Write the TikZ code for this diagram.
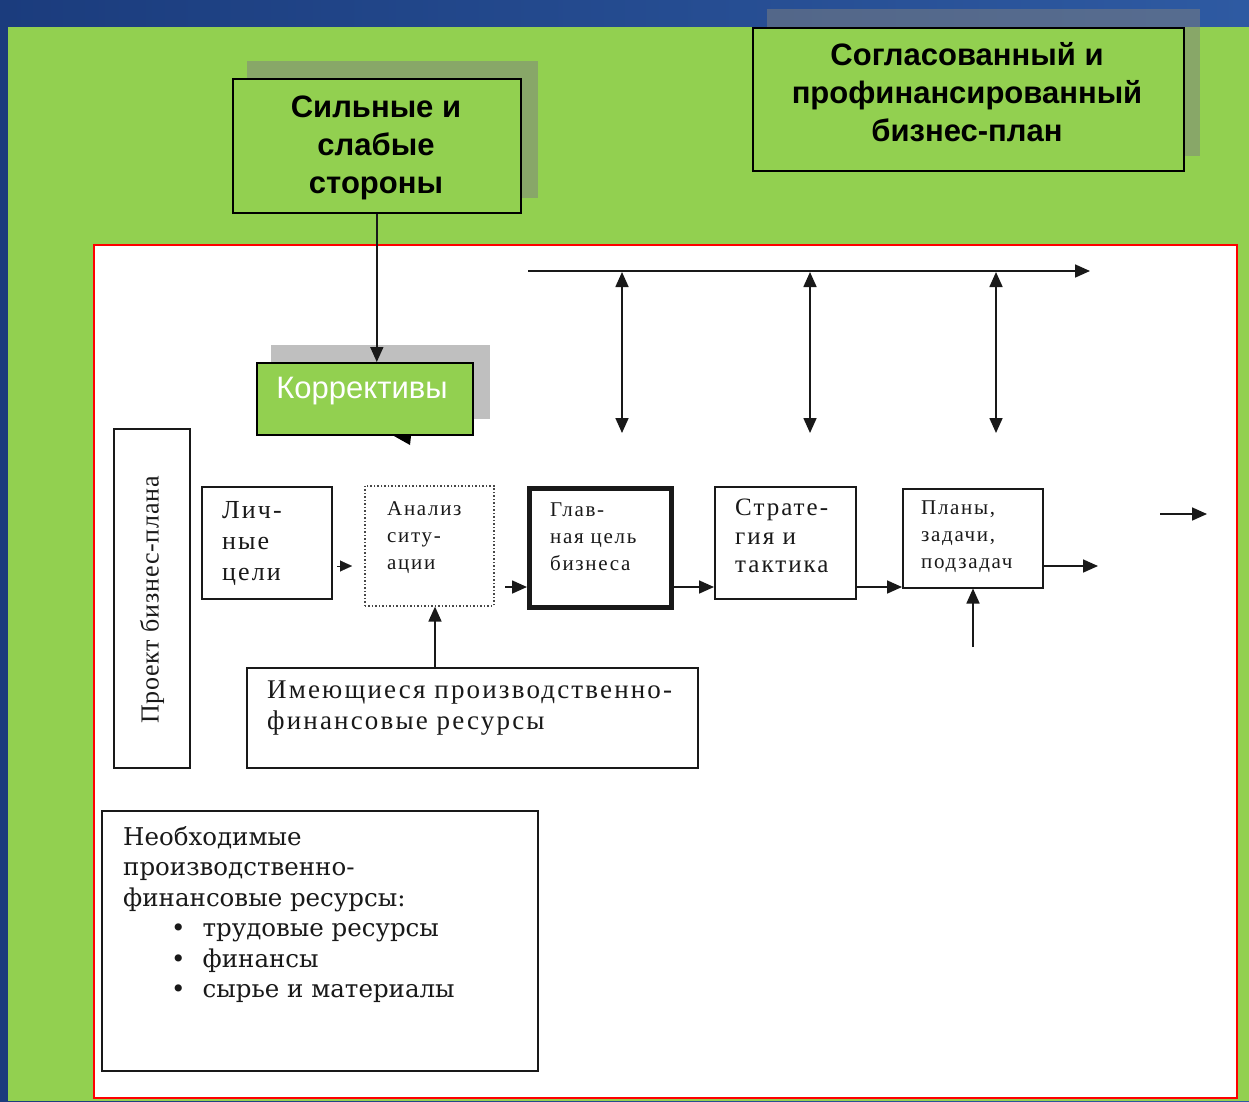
\documentclass[tikz,border=0pt]{standalone}
\usepackage{fontspec}
\setmainfont{Liberation Serif}
\newfontfamily\arialf{Liberation Sans}
\newfontfamily\boxf[LetterSpace=8]{Liberation Serif}
\newfontfamily\projf[LetterSpace=3]{Liberation Serif}
\newfontfamily\neobf{DejaVu Serif}
\usetikzlibrary{arrows.meta}
\definecolor{bgblueA}{RGB}{27,60,125}
\definecolor{bgblueB}{RGB}{46,90,162}
\definecolor{slgreen}{RGB}{146,208,80}
\definecolor{inkc}{RGB}{25,25,25}
\tikzset{
  arr/.style={-{Triangle[length=15pt,width=13pt]}, line width=1.7pt, inkc},
  darr/.style={{Triangle[length=15pt,width=13pt]}-{Triangle[length=15pt,width=13pt]}, line width=1.7pt, inkc},
  wbox/.style={draw=inkc, line width=1.5pt, fill=white, inner sep=0pt, anchor=north west},
  gbox/.style={draw=black, line width=1.6pt, fill=slgreen, inner sep=0pt, anchor=north west},
  shadowbox/.style={fill=gray, fill opacity=0.5, draw=none, inner sep=0pt, anchor=north west},
  lshadow/.style={fill={rgb,255:red,191;green,191;blue,191}, draw=none, inner sep=0pt, anchor=north west},
  ttl/.style={font={\arialf\bfseries\fontsize{31}{38}\selectfont}, align=center, text=black},
  btxt/.style={font={\boxf\fontsize{26}{31}\selectfont}, align=left, anchor=north west, inner sep=0pt, text=inkc},
  stxt/.style={font={\boxf\fontsize{21}{27}\selectfont}, align=left, anchor=north west, inner sep=0pt, text=inkc},
}
\begin{document}
\begin{tikzpicture}[x=1pt,y=-1pt]
\useasboundingbox (0,0) rectangle (1249,1101);
% background
\shade[left color=bgblueA, right color=bgblueB] (0,0) rectangle (1249,1101);
\fill[slgreen] (8,27) rectangle (1249,1101);
% white panel
\draw[red, line width=2.5pt, fill=white] (94,245) rectangle (1237,1098);

% top title boxes with shadows
\node[shadowbox, minimum width=291pt, minimum height=137pt] (silsh) at (247,61) {};
\node[gbox, minimum width=288pt, minimum height=134pt] (sil) at (232,78) {};
\node[ttl] (siltxt) at (376,148) {Сильные и\\слабые\\стороны};

\node[shadowbox, minimum width=433pt, minimum height=147pt] (sogsh) at (767,9) {};
\node[gbox, minimum width=431pt, minimum height=143pt] (sog) at (752,27) {};
\node[ttl] (sogtxt) at (967,92) {Согласованный и\\профинансированный\\бизнес-план};

% Korrektivy
\node[lshadow, minimum width=219pt, minimum height=74pt] (korsh) at (271,345) {};
\node[gbox, minimum width=216pt, minimum height=72pt] (kor) at (256,362) {};
\node[font={\arialf\fontsize{31}{36}\selectfont}, text=white, inner sep=0pt] (kortxt) at (362,391) {Коррективы};
\fill[black] (394,436) -- (411,436) -- (410,445) -- cycle;

\draw[arr] (sil.south) -- (sil.south |- kor.north);

% top bus with double arrows
\coordinate (hs) at (528,271);
\coordinate (he) at (1090,271);
\draw[arr] (hs) -- (he);
\coordinate (v1t) at (622,272); \coordinate (v1b) at (622,433);
\coordinate (v2t) at (810,272); \coordinate (v2b) at (810,433);
\coordinate (v3t) at (996,272); \coordinate (v3b) at (996,433);
\draw[darr] (v1t) -- (v1b);
\draw[darr] (v2t) -- (v2b);
\draw[darr] (v3t) -- (v3b);

% Project box
\node[wbox, minimum width=76pt, minimum height=339pt] (proekt) at (113,428) {};
\node[font={\projf\fontsize{26}{31}\selectfont}, rotate=90, text=inkc, inner sep=0pt] (proekttxt) at (152,600) {Проект бизнес-плана};

% main row
\node[wbox, minimum width=130pt, minimum height=112pt] (lich) at (201,486) {};
\node[btxt] (lichtxt) at (222,501) {Лич-\\ные\\цели};

\node[wbox, draw=inkc!80, dotted, line width=1.6pt, minimum width=129pt, minimum height=120pt] (anal) at (364,485) {};
\node[stxt] (analtxt) at (387,501) {Анализ\\ситу-\\ации};

\node[wbox, line width=5pt, minimum width=142pt, minimum height=119pt] (glav) at (527,486) {};
\node[stxt] (glavtxt) at (550,503) {Глав-\\ная цель\\бизнеса};

\node[wbox, minimum width=141pt, minimum height=112pt] (strat) at (714,486) {};
\node[btxt, font={\boxf\fontsize{25}{28.5}\selectfont}] (strattxt) at (735,499) {Страте-\\гия и\\тактика};

\node[wbox, minimum width=140pt, minimum height=99pt] (plan) at (902,488) {};
\node[stxt] (plantxt) at (921,501) {Планы,\\задачи,\\подзадач};

% resources
\node[wbox, minimum width=451pt, minimum height=100pt] (imeyu) at (246,667) {};
\node[btxt, font={\boxf\fontsize{27}{31}\selectfont}] (imeyutxt) at (267,681) {Имеющиеся производственно-\\финансовые ресурсы};

\node[wbox, minimum width=436pt, minimum height=260pt] (neob) at (101,810) {};
\node[font={\neobf\fontsize{24.5}{30.5}\selectfont}, align=left, anchor=north west, inner sep=0pt, text=inkc] (neobtxt) at (123,826)
{Необходимые\\производственно-\\финансовые ресурсы:\\
\hspace*{48pt}•\hspace{17pt}трудовые ресурсы\\
\hspace*{48pt}•\hspace{17pt}финансы\\
\hspace*{48pt}•\hspace{17pt}сырье и материалы};

% connectors
\coordinate (la) at (337,566);
\coordinate (lb) at (352,566);
\draw[-{Triangle[length=12pt,width=11pt]}, line width=0.1pt, inkc] (la) -- (lb);
\coordinate (ag) at (505,587);
\draw[arr] (ag) -- (glav.west |- ag);
\draw[arr] (glav.east |- ag) -- (strat.west |- ag);
\draw[arr] (strat.east |- ag) -- (plan.west |- ag);
\coordinate (po) at (1098,566);
\draw[arr] (plan.east |- po) -- (po);
\coordinate (pin) at (973,647);
\draw[arr] (pin) -- (pin |- plan.south);
\coordinate (fs) at (1160,514);
\coordinate (fe) at (1207,514);
\draw[arr] (fs) -- (fe);
\draw[arr] (imeyu.north -| 435,0) -- (anal.south -| 435,0);
\end{tikzpicture}
\end{document}
